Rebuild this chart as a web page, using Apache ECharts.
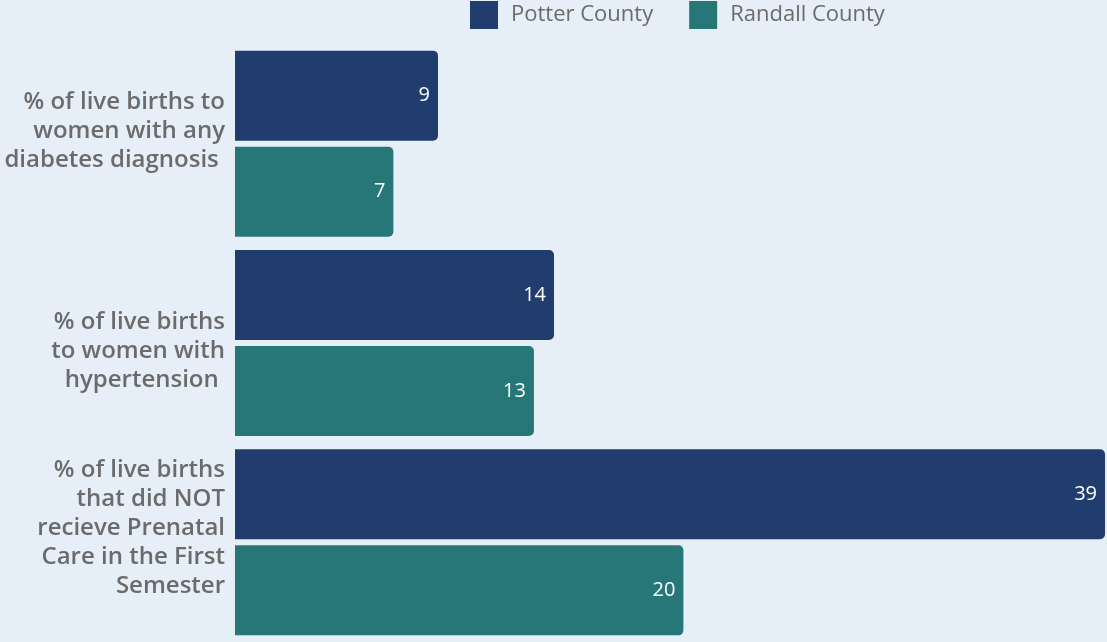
<!DOCTYPE html>
<html>
<head>
<meta charset="utf-8">
<script src="https://cdn.jsdelivr.net/npm/echarts@6/dist/echarts.min.js"></script>
<style>
    html, body { margin: 0; padding: 0; background: #e6eef8; }
    #chart { width: 1107px; height: 642px; }
</style>
</head>
<body>
<div id="chart"></div>
<script>
// categories, top to bottom
const categories = [
    '% of live births to\nwomen with any\ndiabetes diagnosis ',
    '% of live births\nto women with\nhypertension ',
    '% of live births\nthat did NOT\nrecieve Prenatal\nCare in the First\nSemester'
];
const seriesNames = ['Potter County', 'Randall County'];
const potterValues = [9.1, 14.3, 39];
const randallValues = [7.1, 13.4, 20.1];

const colors = ['#213d6e', '#287778'];
const fontFamily = '"Open Sans", Lato, sans-serif';
// the labels in the source sit a bit off the middle of their band (px, + = down)
const labelShift = [-13, 8, -14];

const myChart = echarts.init(document.getElementById('chart'));

const barLabel = {
    show: true,
    position: 'insideRight',
    distance: 8,
    color: '#ffffff',
    fontSize: 20,
    fontFamily: fontFamily,
    formatter: p => Math.round(p.value)
};

// spacer rich styles for shifting each label block
const rich = {
    a: { color: '#6b6b6b', fontSize: 24, fontWeight: 600, lineHeight: 29, fontFamily: fontFamily, align: 'right' }
};
labelShift.forEach((s, i) => {
    rich['g' + i] = { fontSize: 1, lineHeight: Math.abs(s) * 2 };
});

const option = {
    backgroundColor: '#e6eef8',
    animation: false,
    color: colors,
    legend: {
        top: 1,
        left: 470,
        padding: 0,
        itemWidth: 28,
        itemHeight: 28,
        itemGap: 36,
        icon: 'rect',
        textStyle: { color: '#6b6b6b', fontSize: 22, fontFamily: fontFamily, padding: [0, 0, 0, 8] },
        data: seriesNames
    },
    grid: { left: 235, top: 44, right: 2, bottom: 0, containLabel: false },
    xAxis: {
        type: 'value',
        min: 0,
        max: 39,
        show: false
    },
    yAxis: {
        type: 'category',
        inverse: true,
        data: categories,
        axisLine: { show: false },
        axisTick: { show: false },
        axisLabel: {
            margin: 10,
            align: 'right',
            formatter: (value, index) => {
                const body = value.split('\n').map(l => '{a|' + l + '}').join('\n');
                const gap = '{g' + index + '| }';
                return labelShift[index] > 0 ? gap + '\n' + body : body + '\n' + gap;
            },
            rich: rich
        }
    },
    series: [{
        name: seriesNames[0],
        type: 'bar',
        data: potterValues,
        barWidth: 90,
        barGap: '6.7%',
        itemStyle: { color: colors[0], borderRadius: [0, 5, 5, 0] },
        label: barLabel
    }, {
        name: seriesNames[1],
        type: 'bar',
        data: randallValues,
        barWidth: 90,
        itemStyle: { color: colors[1], borderRadius: [0, 5, 5, 0] },
        label: barLabel
    }]
};

myChart.setOption(option);
</script>
</body>
</html>
